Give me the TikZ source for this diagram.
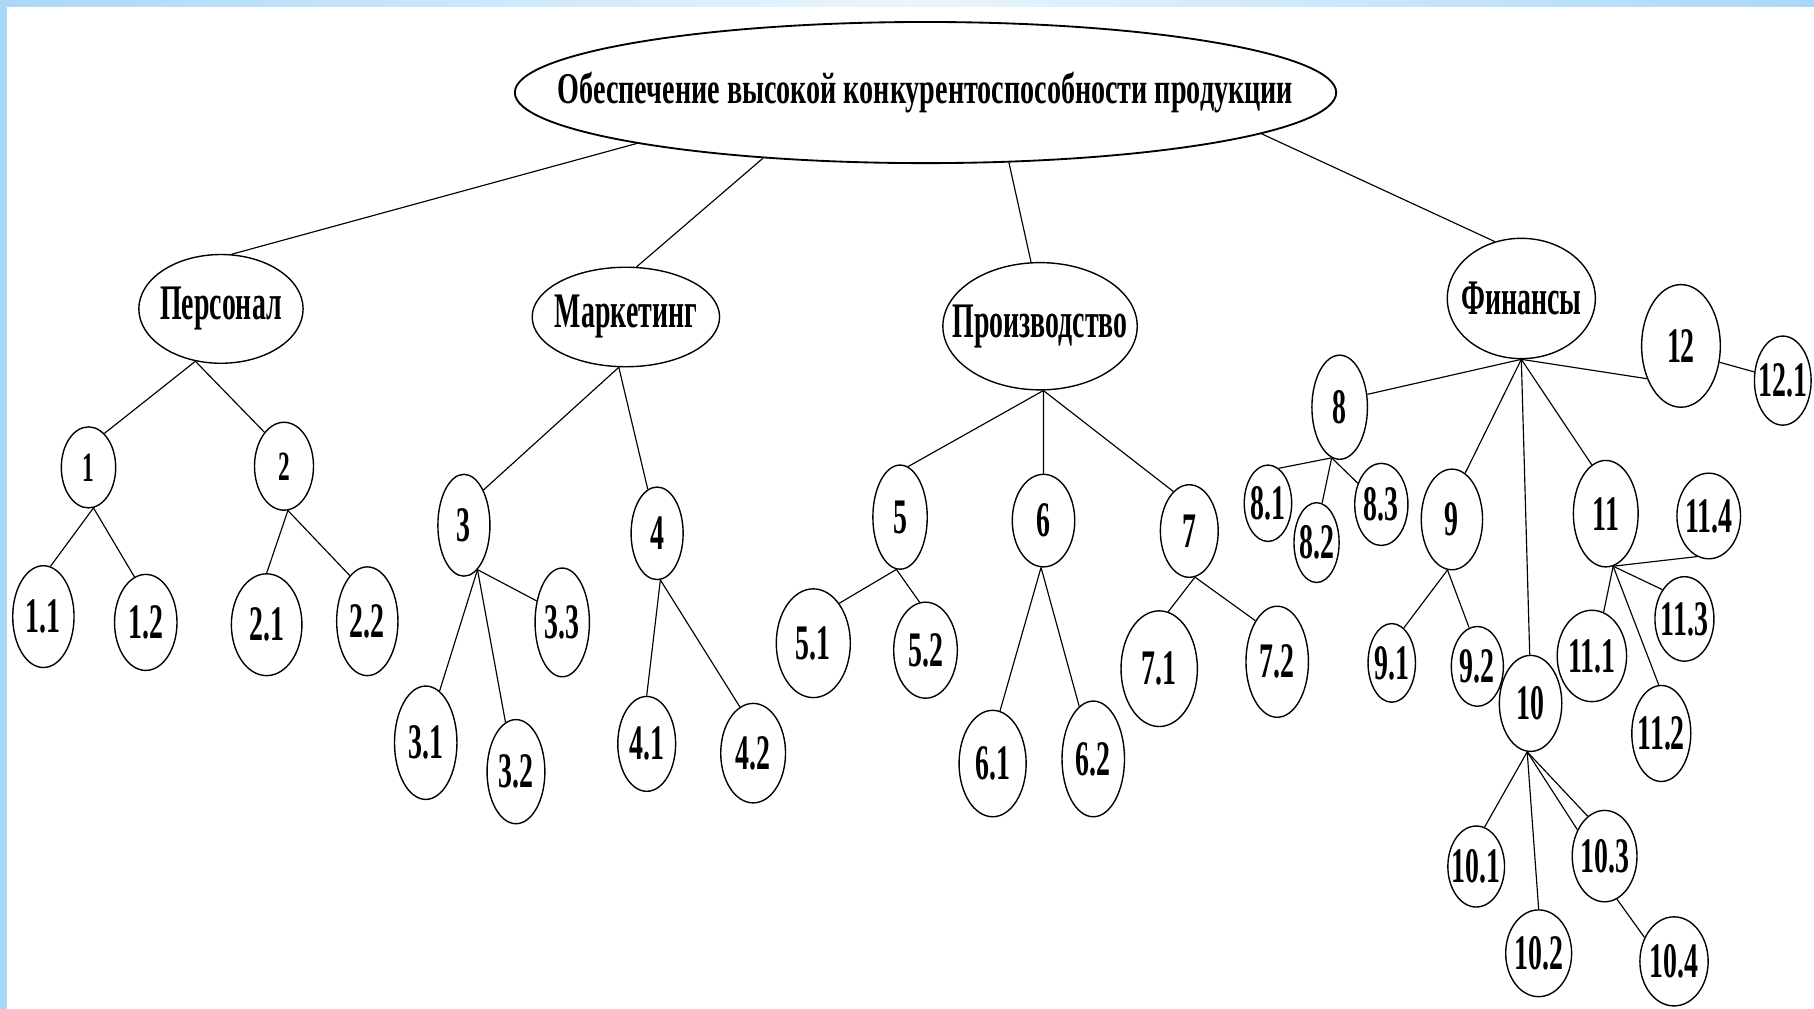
\documentclass[tikz,border=0pt]{standalone}
\usepackage{fontspec}
\usetikzlibrary{positioning,shapes.geometric}
\newfontfamily\labelfont[FakeStretch=0.56]{Liberation Serif}
\newfontfamily\goalfont[FakeStretch=0.64]{Liberation Serif}
\definecolor{stripblue}{RGB}{170,216,250}

\begin{document}
\begin{tikzpicture}[on grid, line width=1pt,
        every node/.style={draw, ellipse, inner xsep=-80pt, inner ysep=0pt, line width=1.2pt, font=\labelfont\bfseries\fontsize{43}{43}\selectfont},
        sz/.style 2 args={minimum width=#1pt, minimum height=#2pt},
        smalltext/.style={font=\labelfont\bfseries\fontsize{36}{36}\selectfont}]
        \useasboundingbox (0,0) rectangle (1568pt,-872pt);
        \fill[stripblue] (0,0) rectangle (6pt,-872pt);
        \shade[left color=stripblue, right color=stripblue, middle color=stripblue!25] (0,0) rectangle (1568pt,-6pt);

        \node (goal) [sz={710}{122}, line width=1.6pt, font=\goalfont\bfseries\fontsize{38}{38}\selectfont] at (800pt,-80pt) {Обеспечение высокой конкурентоспособности продукции};
        \node (personal) [sz={142}{94}, below left=187pt and 609pt of goal] {Персонал};
        \node (marketing) [sz={162}{86}, below left=194pt and 259pt of goal] {Маркетинг};
        \node (production) [sz={168}{110}, below right=202pt and 99pt of goal] {Производство};
        \node (finance) [sz={128}{104}, below right=178pt and 515pt of goal] {Финансы};

        \node (n1) [sz={47}{70}, smalltext, below left=137pt and 114.5pt of personal] {1};
        \node (n2) [sz={51}{76}, smalltext, below right=136pt and 54.5pt of personal] {2};
        \node (n1-1) [sz={53}{88}, below left=129pt and 39pt of n1] {1.1};
        \node (n1-2) [sz={54}{83}, below right=134pt and 49.5pt of n1] {1.2};
        \node (n2-1) [sz={61}{88}, below left=137pt and 15pt of n2] {2.1};
        \node (n2-2) [sz={53}{94}, below right=134pt and 72pt of n2] {2.2};

        \node (n3) [sz={45}{88}, below left=180pt and 140pt of marketing] {3};
        \node (n4) [sz={45}{80}, below right=187pt and 27pt of marketing] {4};
        \node (n3-1) [sz={54}{98}, below left=188pt and 33pt of n3] {3.1};
        \node (n3-2) [sz={50}{90}, below right=213pt and 45pt of n3] {3.2};
        \node (n3-3) [sz={47}{94}, below right=84pt and 85pt of n3] {3.3};
        \node (n4-1) [sz={50}{82}, below left=182pt and 9pt of n4] {4.1};
        \node (n4-2) [sz={56}{86}, below right=190pt and 83pt of n4] {4.2};

        \node (n5) [sz={47}{90}, below left=165pt and 121pt of production] {5};
        \node (n6) [sz={54}{80}, below right=168pt and 3pt of production] {6};
        \node (n7) [sz={50}{80}, below right=177pt and 129pt of production] {7};
        \node (n5-1) [sz={64}{94}, below left=109pt and 75pt of n5] {5.1};
        \node (n5-2) [sz={55}{83}, below right=115pt and 22pt of n5] {5.2};
        \node (n6-1) [sz={58}{92}, below left=210pt and 44pt of n6] {6.1};
        \node (n6-2) [sz={54}{100}, below right=206pt and 43pt of n6] {6.2};
        \node (n7-1) [sz={66}{100}, below left=119pt and 26pt of n7] {7.1};
        \node (n7-2) [sz={54}{96}, below right=113pt and 76pt of n7] {7.2};

        \node (n8) [sz={48}{90}, below left=94pt and 157pt of finance] {8};
        \node (n9) [sz={53}{87}, below left=191pt and 60pt of finance] {9};
        \node (n10) [sz={54}{83}, below right=350pt and 8pt of finance] {10};
        \node (n11) [sz={56}{92}, below right=186pt and 73pt of finance] {11};
        \node (n12) [sz={68}{106}, below right=41pt and 138pt of finance] {12};
        \node (n8-1) [sz={41}{66}, below left=83pt and 62pt of n8] {8.1};
        \node (n8-2) [sz={39}{69}, below left=117pt and 20pt of n8] {8.2};
        \node (n8-3) [sz={46}{71}, below right=84pt and 36pt of n8] {8.3};
        \node (n9-1) [sz={41}{68}, below left=124pt and 52pt of n9] {9.1};
        \node (n9-2) [sz={45}{69}, below right=127pt and 22pt of n9] {9.2};
        \node (n10-1) [sz={49}{70}, below left=141pt and 47pt of n10] {10.1};
        \node (n10-2) [sz={57}{75}, below right=216pt and 7pt of n10] {10.2};
        \node (n10-3) [sz={56}{79}, below right=132pt and 64pt of n10] {10.3};
        \node (n10-4) [sz={59}{77}, below right=91pt and 60pt of n10-3] {10.4};
        \node (n11-1) [sz={60}{79}, below left=123pt and 12pt of n11] {11.1};
        \node (n11-2) [sz={51}{83}, below right=190pt and 48pt of n11] {11.2};
        \node (n11-3) [sz={51}{73}, below right=91pt and 68pt of n11] {11.3};
        \node (n11-4) [sz={55}{74}, below right=2pt and 89pt of n11] {11.4};
        \node (n12-1) [sz={49}{77}, below right=30pt and 88pt of n12] {12.1};

        \draw (goal.190) -- (personal.79);
        \draw (goal.202) -- (marketing.78);
        \draw (goal.320) -- (production.98);
        \draw (goal.353) -- (finance.115);

        \draw (personal.244) -- (n1.65);
        \draw (personal.244) -- (n2.120);
        \draw (n1.277) -- (n1-1.82);
        \draw (n1.277) -- (n1-2.104);
        \draw (n2.275) -- (n2-1.90);
        \draw (n2.275) -- (n2-2.111);

        \draw (marketing.262) -- (n3.61);
        \draw (marketing.262) -- (n4.102);
        \draw (n3.287) -- (n3-1.75);
        \draw (n3.287) -- (n3-2.102);
        \draw (n3.287) -- (n3-3.140);
        \draw (n4.274) -- (n4-1.90);
        \draw (n4.274) -- (n4-2.106);

        \draw (production.273) -- (n5.81);
        \draw (production.273) -- (n6.90);
        \draw (production.273) -- (n7.112);
        \draw (n5.266) -- (n5-1.57);
        \draw (n5.266) -- (n5-2.97);
        \draw (n6.267) -- (n6-1.82);
        \draw (n6.267) -- (n6-2.105);
        \draw (n7.277) -- (n7-1.81);
        \draw (n7.277) -- (n7-2.118);

        \draw (finance.270) -- (n8.25);
        \draw (finance.270) -- (n9.74);
        \draw (finance.270) -- (n10.91);
        \draw (finance.270) -- (n11.106);
        \draw (finance.270) -- (n12.224);
        \draw (n12.337) -- (n12-1.163);
        \draw (n8.261) -- (n8-1.73);
        \draw (n8.261) -- (n8-2.82);
        \draw (n8.261) -- (n8-3.138);
        \draw (n9.265) -- (n9-1.71);
        \draw (n9.265) -- (n9-2.102);
        \draw (n10.266) -- (n10-1.78);
        \draw (n10.266) -- (n10-2.90);
        \draw (n10.266) -- (n10-3.136);
        \draw (n10.266) -- (n10-3.113);
        \draw (n10-3.286) -- (n10-4.141);
        \draw (n11.278) -- (n11-1.75);
        \draw (n11.278) -- (n11-2.93);
        \draw (n11.278) -- (n11-3.127);
        \draw (n11.278) -- (n11-4.254);
    \end{tikzpicture}
\end{document}
